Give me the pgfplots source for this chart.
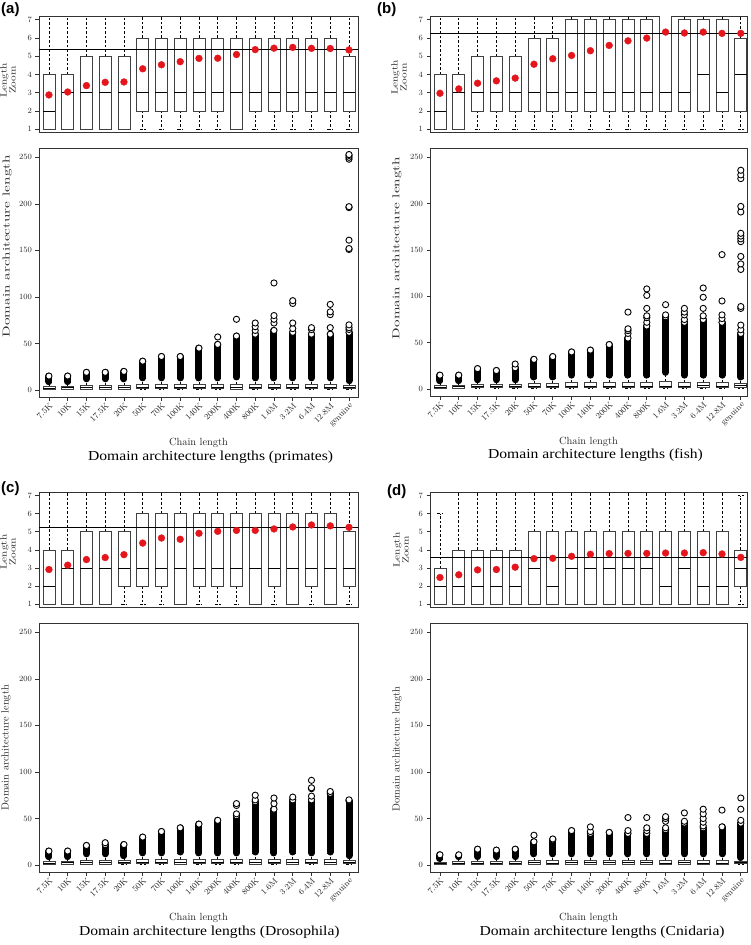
\documentclass[border=0pt]{standalone}
\usepackage{fontspec}
\usepackage{pgfplots}
\pgfplotsset{compat=1.18}
\usepgfplotslibrary{statistics}
\newfontfamily\capfont[FakeStretch=1.14]{Liberation Serif}
\newfontfamily\tagfont{Liberation Sans}
\newfontfamily\lmwide[FakeStretch=1.5]{lmroman10-regular.otf}
\newfontfamily\lmzoom[FakeStretch=1.25]{lmroman10-regular.otf}
\definecolor{meanred}{RGB}{228,22,28}

\newcommand\bp[6]{\addplot[black, boxplot prepared={draw position=#1, lower whisker=#2, lower quartile=#3, median=#4, upper quartile=#5, upper whisker=#6}] coordinates {};}
\newcommand\band[3]{\addplot[black, line width=7pt, line cap=round] coordinates {(#1,#2) (#1,#3)};}
\newcommand\rings[1]{\addplot[only marks, mark=*, mark size=3.1pt, mark options={draw=black, fill=white, line width=0.9pt}] coordinates {#1};}
\newcommand\means[1]{\addplot[only marks, mark=*, mark size=3.4pt, color=meanred] coordinates {#1};}
\newcommand\gline[1]{\addplot[black, line width=1.1pt] coordinates {(0,#1) (18,#1)};}

% ---------------- box data: position, lower whisker, lower quartile, median, upper quartile, upper whisker
\newcommand\boxA{%
\bp{1}{1}{1}{2}{4}{8}\bp{2}{1}{1}{3}{4}{8}\bp{3}{1}{1}{3}{5}{11}\bp{4}{1}{1}{3}{5}{11}\bp{5}{1}{1}{3}{5}{11}%
\bp{6}{1}{2}{3}{6}{12}\bp{7}{1}{2}{3}{6}{12}\bp{8}{1}{2}{3}{6}{12}\bp{9}{1}{2}{3}{6}{12}\bp{10}{1}{2}{3}{6}{12}%
\bp{11}{1}{1}{3}{6}{13}\bp{12}{1}{2}{3}{6}{12}\bp{13}{1}{2}{3}{6}{12}\bp{14}{1}{2}{3}{6}{12}\bp{15}{1}{2}{3}{6}{12}%
\bp{16}{1}{2}{3}{6}{12}\bp{17}{1}{2}{3}{5}{9}}
\newcommand\boxB{%
\bp{1}{1}{1}{2}{4}{8}\bp{2}{1}{1}{3}{4}{8}\bp{3}{1}{2}{3}{5}{9}\bp{4}{1}{2}{3}{5}{9}\bp{5}{1}{2}{3}{5}{9}%
\bp{6}{1}{2}{3}{6}{12}\bp{7}{1}{2}{3}{6}{12}\bp{8}{1}{2}{3}{7}{14}\bp{9}{1}{2}{3}{7}{14}\bp{10}{1}{2}{3}{7}{14}%
\bp{11}{1}{2}{3}{7}{14}\bp{12}{1}{2}{3}{7}{14}\bp{13}{1}{2}{3}{8}{17}\bp{14}{1}{2}{3}{7}{14}\bp{15}{1}{2}{4}{7}{14}%
\bp{16}{1}{2}{3}{7}{14}\bp{17}{1}{2}{4}{6}{12}}
\newcommand\boxC{%
\bp{1}{1}{1}{2}{4}{8}\bp{2}{1}{1}{3}{4}{8}\bp{3}{1}{1}{3}{5}{11}\bp{4}{1}{1}{3}{5}{11}\bp{5}{1}{2}{3}{5}{9}%
\bp{6}{1}{2}{3}{6}{12}\bp{7}{1}{2}{3}{6}{12}\bp{8}{1}{1}{3}{6}{13}\bp{9}{1}{2}{3}{6}{12}\bp{10}{1}{2}{3}{6}{12}%
\bp{11}{1}{2}{3}{6}{12}\bp{12}{1}{1}{3}{6}{13}\bp{13}{1}{2}{3}{6}{12}\bp{14}{1}{1}{3}{6}{13}\bp{15}{1}{2}{3}{6}{12}%
\bp{16}{1}{1}{3}{6}{13}\bp{17}{1}{2}{3}{5}{9}}
\newcommand\boxD{%
\bp{1}{1}{1}{2}{3}{6}\bp{2}{1}{1}{2}{4}{8}\bp{3}{1}{1}{2}{4}{8}\bp{4}{1}{1}{2}{4}{8}\bp{5}{1}{1}{2}{4}{8}%
\bp{6}{1}{1}{3}{5}{11}\bp{7}{1}{1}{2}{5}{11}\bp{8}{1}{1}{3}{5}{11}\bp{9}{1}{1}{3}{5}{11}\bp{10}{1}{1}{3}{5}{11}%
\bp{11}{1}{1}{3}{5}{11}\bp{12}{1}{1}{3}{5}{11}\bp{13}{1}{1}{2}{5}{11}\bp{14}{1}{1}{3}{5}{11}\bp{15}{1}{1}{2}{5}{11}%
\bp{16}{1}{1}{2}{5}{11}\bp{17}{1}{2}{3}{4}{7}}

% ---------------- dense outlier ranges: position, from, to
\newcommand\bandsA{%
\band{1}{9}{15}\band{2}{9}{15}\band{3}{12}{19}\band{4}{12}{19}\band{5}{12}{20}\band{6}{13}{31}\band{7}{13}{36}%
\band{8}{13}{36}\band{9}{13}{45}\band{10}{13}{49}\band{11}{14}{58}\band{12}{13}{60}\band{13}{13}{64}%
\band{14}{13}{62}\band{15}{13}{60}\band{16}{13}{60}\band{17}{10}{62}}
\newcommand\bandsB{%
\band{1}{9}{15}\band{2}{9}{15}\band{3}{10}{22}\band{4}{10}{20}\band{5}{10}{23}\band{6}{13}{32}\band{7}{13}{35}%
\band{8}{15}{40}\band{9}{15}{42}\band{10}{15}{48}\band{11}{15}{55}\band{12}{15}{68}\band{13}{18}{78}%
\band{14}{15}{72}\band{15}{15}{75}\band{16}{15}{72}\band{17}{13}{60}}
\newcommand\bandsC{%
\band{1}{9}{15}\band{2}{9}{15}\band{3}{12}{21}\band{4}{12}{22}\band{5}{10}{22}\band{6}{13}{30}\band{7}{13}{36}%
\band{8}{14}{40}\band{9}{13}{44}\band{10}{13}{48}\band{11}{13}{53}\band{12}{14}{68}\band{13}{13}{60}%
\band{14}{14}{70}\band{15}{13}{70}\band{16}{14}{77}\band{17}{10}{69}}
\newcommand\bandsD{%
\band{1}{7}{11}\band{2}{9}{10}\band{3}{9}{17}\band{4}{9}{16}\band{5}{9}{17}\band{6}{12}{25}\band{7}{12}{27}%
\band{8}{12}{37}\band{9}{12}{34}\band{10}{12}{35}\band{11}{12}{34}\band{12}{12}{34}\band{13}{12}{38}%
\band{14}{12}{45}\band{15}{12}{40}\band{16}{12}{41}\band{17}{8}{45}}

\pgfplotsset{
  base/.style={scale only axis, anchor=north west, tick pos=left, tick align=outside,
    major tick length=3.5pt,
    axis line style={black!80, line width=0.8pt},
    tick style={black!80, line width=0.7pt},
    tick label style={font=\fontsize{8}{9}\selectfont, text=black!85},
    boxplot/draw direction=y, boxplot/box extend=0.64, boxplot/whisker extend=0.3,
    boxplot/every box/.style={draw=black!75, fill=white, line width=0.75pt},
    boxplot/every median/.style={draw=black, line width=0.75pt},
    boxplot/every whisker/.style={draw=black, line width=0.75pt, dash pattern=on 2.5pt off 2pt},
    clip=true},
  zoomax/.style={base, ymin=0.85, ymax=7.2, ytick={1,...,7}, xtick=\empty,
    ylabel={Length\\Zoom},
    ylabel style={align=center, anchor=center, text=black!85, font=\lmzoom\fontsize{9}{7.5}\selectfont}},
  fullax/.style={base, ymin=-7.5, ymax=260, ytick={0,50,...,250}, xtick={1,...,17},
    xticklabels={7.5K,10K,15K,17.5K,20K,50K,70K,100K,140K,200K,400K,800K,1.6M,3.2M,6.4M,12.8M,genuine},
    xticklabel style={rotate=45, anchor=north east, inner sep=1pt, font=\fontsize{8.4}{9}\selectfont},
    xlabel={Chain length},
    xlabel style={at={(axis description cs:0.5,-0.184)}, anchor=center, text=black!85, font=\fontsize{10.4}{12}\selectfont},
    ylabel={Domain architecture length},
    ylabel style={anchor=center, text=black!85},
    title style={anchor=center, font=\capfont\fontsize{13.7}{16}\selectfont}},
}

\begin{document}
\begin{tikzpicture}
\useasboundingbox (0,0) rectangle (750pt,-945pt);

% ===================== (a) primates
\begin{axis}[zoomax, at={(39pt,-16pt)}, width=319pt, height=116pt, xmin=0.47, xmax=17.48,
  ylabel style={at={(axis description cs:-0.097,0.448)}}]
\boxA
\gline{5.35}
\means{(1,2.88) (2,3.04) (3,3.39) (4,3.57) (5,3.59) (6,4.31) (7,4.53) (8,4.70) (9,4.88) (10,4.89) (11,5.09) (12,5.36) (13,5.44) (14,5.48) (15,5.43) (16,5.42) (17,5.34)}
\end{axis}
\begin{axis}[fullax, at={(39pt,-148pt)}, width=319pt, height=249pt, xmin=0.47, xmax=17.48,
  ylabel style={at={(axis description cs:-0.1,0.606)}, font=\lmwide\fontsize{10.1}{12}\selectfont},
  title={Domain architecture lengths (primates)}, title style={at={(axis description cs:0.538,-0.264)}}]
\boxA
\bandsA
\rings{(1,15) (2,15) (3,19) (4,19) (5,20) (6,31) (7,36) (8,36) (9,45) (10,49) (10,57) (11,58) (11,76) (12,60) (12,64) (12,68) (12,72) (13,64) (13,72) (13,76) (13,80) (13,115) (14,62) (14,66) (14,72) (14,93) (14,96) (15,60) (15,65) (15,67) (16,60) (16,67) (16,81) (16,84) (16,92) (17,62) (17,65) (17,67) (17,70) (17,151) (17,152) (17,161) (17,196) (17,197) (17,248) (17,250) (17,252) (17,253)}
\end{axis}

% ===================== (b) fish
\begin{axis}[zoomax, at={(430pt,-16pt)}, width=317pt, height=116pt, xmin=0.47, xmax=17.33,
  ylabel style={at={(axis description cs:-0.098,0.47)}}]
\boxB
\gline{6.24}
\means{(1,2.97) (2,3.21) (3,3.52) (4,3.65) (5,3.80) (6,4.56) (7,4.86) (8,5.04) (9,5.30) (10,5.59) (11,5.84) (12,5.99) (13,6.32) (14,6.27) (15,6.32) (16,6.25) (17,6.25)}
\end{axis}
\begin{axis}[fullax, at={(430pt,-148pt)}, width=317pt, height=248pt, xmin=0.47, xmax=17.33,
  ylabel style={at={(axis description cs:-0.104,0.597)}, font=\lmwide\fontsize{10.1}{12}\selectfont},
  title={Domain architecture lengths (fish)}, title style={at={(axis description cs:0.522,-0.264)}}]
\boxB
\bandsB
\rings{(1,15) (2,15) (3,22) (4,20) (5,23) (5,27) (6,32) (7,35) (8,40) (9,42) (10,48) (11,55) (11,60) (11,63) (11,65) (11,83) (12,68) (12,72) (12,77) (12,79) (12,87) (12,101) (12,108) (13,78) (13,80) (13,91) (14,72) (14,75) (14,80) (14,83) (14,87) (15,75) (15,79) (15,87) (15,99) (15,109) (16,72) (16,76) (16,80) (16,95) (16,145) (17,60) (17,64) (17,69) (17,87) (17,89) (17,129) (17,135) (17,143) (17,159) (17,162) (17,165) (17,168) (17,191) (17,197) (17,227) (17,231) (17,236)}
\end{axis}

% ===================== (c) Drosophila
\begin{axis}[zoomax, at={(39pt,-492pt)}, width=319pt, height=115pt, xmin=0.47, xmax=17.48,
  ylabel style={at={(axis description cs:-0.097,0.48)}}]
\boxC
\gline{5.24}
\means{(1,2.92) (2,3.16) (3,3.47) (4,3.58) (5,3.74) (6,4.38) (7,4.66) (8,4.59) (9,4.92) (10,5.03) (11,5.08) (12,5.08) (13,5.16) (14,5.27) (15,5.38) (16,5.33) (17,5.25)}
\end{axis}
\begin{axis}[fullax, at={(39pt,-623pt)}, width=319pt, height=249pt, xmin=0.47, xmax=17.48,
  ylabel style={at={(axis description cs:-0.103,0.5)}, font=\fontsize{10.4}{12}\selectfont},
  title={Domain architecture lengths (Drosophila)}, title style={at={(axis description cs:0.534,-0.265)}}]
\boxC
\bandsC
\rings{(1,15) (2,15) (3,21) (4,22) (4,24) (5,22) (6,30) (7,36) (8,40) (9,44) (10,48) (11,53) (11,55) (11,64) (11,66) (12,68) (12,70) (12,75) (13,60) (13,66) (13,72) (14,70) (14,73) (15,70) (15,74) (15,82) (15,83) (15,91) (16,77) (16,79) (17,69) (17,70)}
\end{axis}

% ===================== (d) Cnidaria
\begin{axis}[zoomax, at={(430pt,-492pt)}, width=317pt, height=115pt, xmin=0.47, xmax=17.33,
  ylabel style={at={(axis description cs:-0.091,0.496)}}]
\boxD
\gline{3.60}
\means{(1,2.48) (2,2.63) (3,2.90) (4,2.92) (5,3.05) (6,3.52) (7,3.54) (8,3.65) (9,3.76) (10,3.80) (11,3.81) (12,3.81) (13,3.83) (14,3.83) (15,3.85) (16,3.78) (17,3.59)}
\end{axis}
\begin{axis}[fullax, at={(430pt,-623pt)}, width=317pt, height=249pt, xmin=0.47, xmax=17.33,
  ylabel style={at={(axis description cs:-0.104,0.494)}, font=\fontsize{10.4}{12}\selectfont},
  title={Domain architecture lengths (Cnidaria)}, title style={at={(axis description cs:0.543,-0.265)}}]
\boxD
\bandsD
\rings{(1,11) (2,11) (3,17) (4,16) (5,17) (6,25) (6,32) (7,27) (7,28) (8,37) (9,34) (9,36) (9,41) (10,35) (11,34) (11,37) (11,51) (12,34) (12,37) (12,40) (12,51) (13,38) (13,40) (13,47) (13,50) (13,52) (14,45) (14,47) (14,56) (15,40) (15,42) (15,46) (15,50) (15,55) (15,60) (16,41) (16,59) (17,45) (17,48) (17,60) (17,72)}
\end{axis}

% panel tags
\node[font=\tagfont\bfseries\fontsize{15}{15}\selectfont, anchor=base west, inner sep=0] at (1pt,-13pt) {(a)};
\node[font=\tagfont\bfseries\fontsize{15}{15}\selectfont, anchor=base west, inner sep=0] at (377pt,-13pt) {(b)};
\node[font=\tagfont\bfseries\fontsize{15}{15}\selectfont, anchor=base west, inner sep=0] at (1pt,-492pt) {(c)};
\node[font=\tagfont\bfseries\fontsize{15}{15}\selectfont, anchor=base west, inner sep=0] at (387pt,-495pt) {(d)};
\end{tikzpicture}
\end{document}
